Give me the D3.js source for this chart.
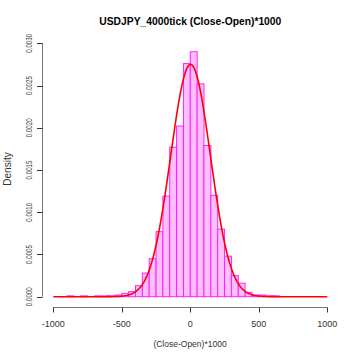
<!DOCTYPE html>
<html>
<head>
<meta charset="utf-8">
<script src="https://cdn.jsdelivr.net/npm/d3@7"></script>
<style>
  body { margin: 0; background: #fff; }
  text { font-family: "Liberation Sans", Arial, sans-serif; }
</style>
</head>
<body>
<svg id="chart" width="360" height="360"></svg>
<script>
// histogram of (Close-Open)*1000, bins of 50 starting at -1000
var binStart = -1000;
var binWidth = 50;
var densities = [
  0, 0, 0.00001, 0, 0.00001, 0, 0.00001, 0.00001, 0.00001, 0.00002,
  0.00004, 0.00006, 0.00013, 0.00028, 0.00045, 0.00077, 0.00119, 0.00177, 0.00202, 0.00276,
  0.00290, 0.00252, 0.00179, 0.00120, 0.00080, 0.00048, 0.00025, 0.00016, 0.00005, 0.00002,
  0.00002, 0.00001, 0.00001, 0, 0, 0, 0, 0, 0, 0,
  0, 0
];
var xTicks = [-1000, -500, 0, 500, 1000];
var yTicks = [0, 0.0005, 0.001, 0.0015, 0.002, 0.0025, 0.003];

// fitted normal curve params
var fitMean = 2;
var fitSd = 145;

var svg = d3.select("svg#chart");

var x = d3.scaleLinear().domain([-1000, 1000]).range([53.3, 327.3]);
var y = d3.scaleLinear().domain([0, 0.003]).range([296.7, 43.3]);

var bins = densities.map(function(d, i){
  return {x0: binStart + i*binWidth, x1: binStart + (i+1)*binWidth, d: d};
});

// bars
svg.selectAll("rect.bar")
  .data(bins)
  .enter().append("rect")
  .attr("class", "bar")
  .attr("x", d => x(d.x0))
  .attr("y", d => y(d.d))
  .attr("width", d => x(d.x1) - x(d.x0))
  .attr("height", d => y(0) - y(d.d))
  .attr("fill", "#ffbfff")
  .attr("stroke", "#ff22ff")
  .attr("stroke-width", 1);

// normal density curve
function dnorm(v){
  var z = (v - fitMean)/fitSd;
  return Math.exp(-0.5*z*z)/(fitSd*Math.sqrt(2*Math.PI));
}
var curvePts = d3.range(-1000, 1000.1, 10);

svg.append("path")
  .datum(curvePts)
  .attr("d", d3.line().x(d => x(d)).y(d => y(dnorm(d))))
  .attr("fill", "none")
  .attr("stroke", "#ff0000")
  .attr("stroke-width", 1.6);

// x axis
var xAxis = svg.append("g").attr("transform", "translate(0,307.5)");
xAxis.append("line")
  .attr("x1", x(-1000)).attr("x2", x(1000))
  .attr("stroke", "#777");
xAxis.selectAll("line.tick")
  .data(xTicks)
  .enter().append("line")
  .attr("class", "tick")
  .attr("x1", d => Math.round(x(d)) + 0.5).attr("x2", d => Math.round(x(d)) + 0.5)
  .attr("y1", 0).attr("y2", 5)
  .attr("stroke", "#333");
xAxis.selectAll("text")
  .data(xTicks)
  .enter().append("text")
  .attr("x", d => x(d))
  .attr("y", 19.8)
  .attr("text-anchor", "middle")
  .attr("font-size", "9px")
  .attr("fill", "#333")
  .text(d => d);

// y axis
var yAxis = svg.append("g").attr("transform", "translate(42.5,0)");
yAxis.append("line")
  .attr("y1", y(0)).attr("y2", y(0.003))
  .attr("stroke", "#777");
yAxis.selectAll("line.tick")
  .data(yTicks)
  .enter().append("line")
  .attr("class", "tick")
  .attr("y1", d => Math.round(y(d)) + 0.5).attr("y2", d => Math.round(y(d)) + 0.5)
  .attr("x1", -5.5).attr("x2", 0)
  .attr("stroke", "#333");
yAxis.selectAll("text")
  .data(yTicks)
  .enter().append("text")
  .attr("transform", d => "translate(-10.8," + y(d) + ") rotate(-90)")
  .attr("text-anchor", "middle")
  .attr("font-size", "9px")
  .attr("textLength", 19)
  .attr("lengthAdjust", "spacingAndGlyphs")
  .attr("fill", "#444")
  .text(d => d3.format(".4f")(d));

// titles
svg.append("text")
  .attr("x", 190.3).attr("y", 25.3)
  .attr("text-anchor", "middle")
  .attr("font-size", "10.3px")
  .attr("font-weight", "bold")
  .text("USDJPY_4000tick (Close-Open)*1000");

svg.append("text")
  .attr("x", 190).attr("y", 346.7)
  .attr("text-anchor", "middle")
  .attr("font-size", "8.5px")
  .attr("fill", "#333")
  .text("(Close-Open)*1000");

svg.append("text")
  .attr("transform", "translate(10.5,169) rotate(-90)")
  .attr("text-anchor", "middle")
  .attr("font-size", "10px")
  .attr("fill", "#333")
  .text("Density");
</script>
</body>
</html>
